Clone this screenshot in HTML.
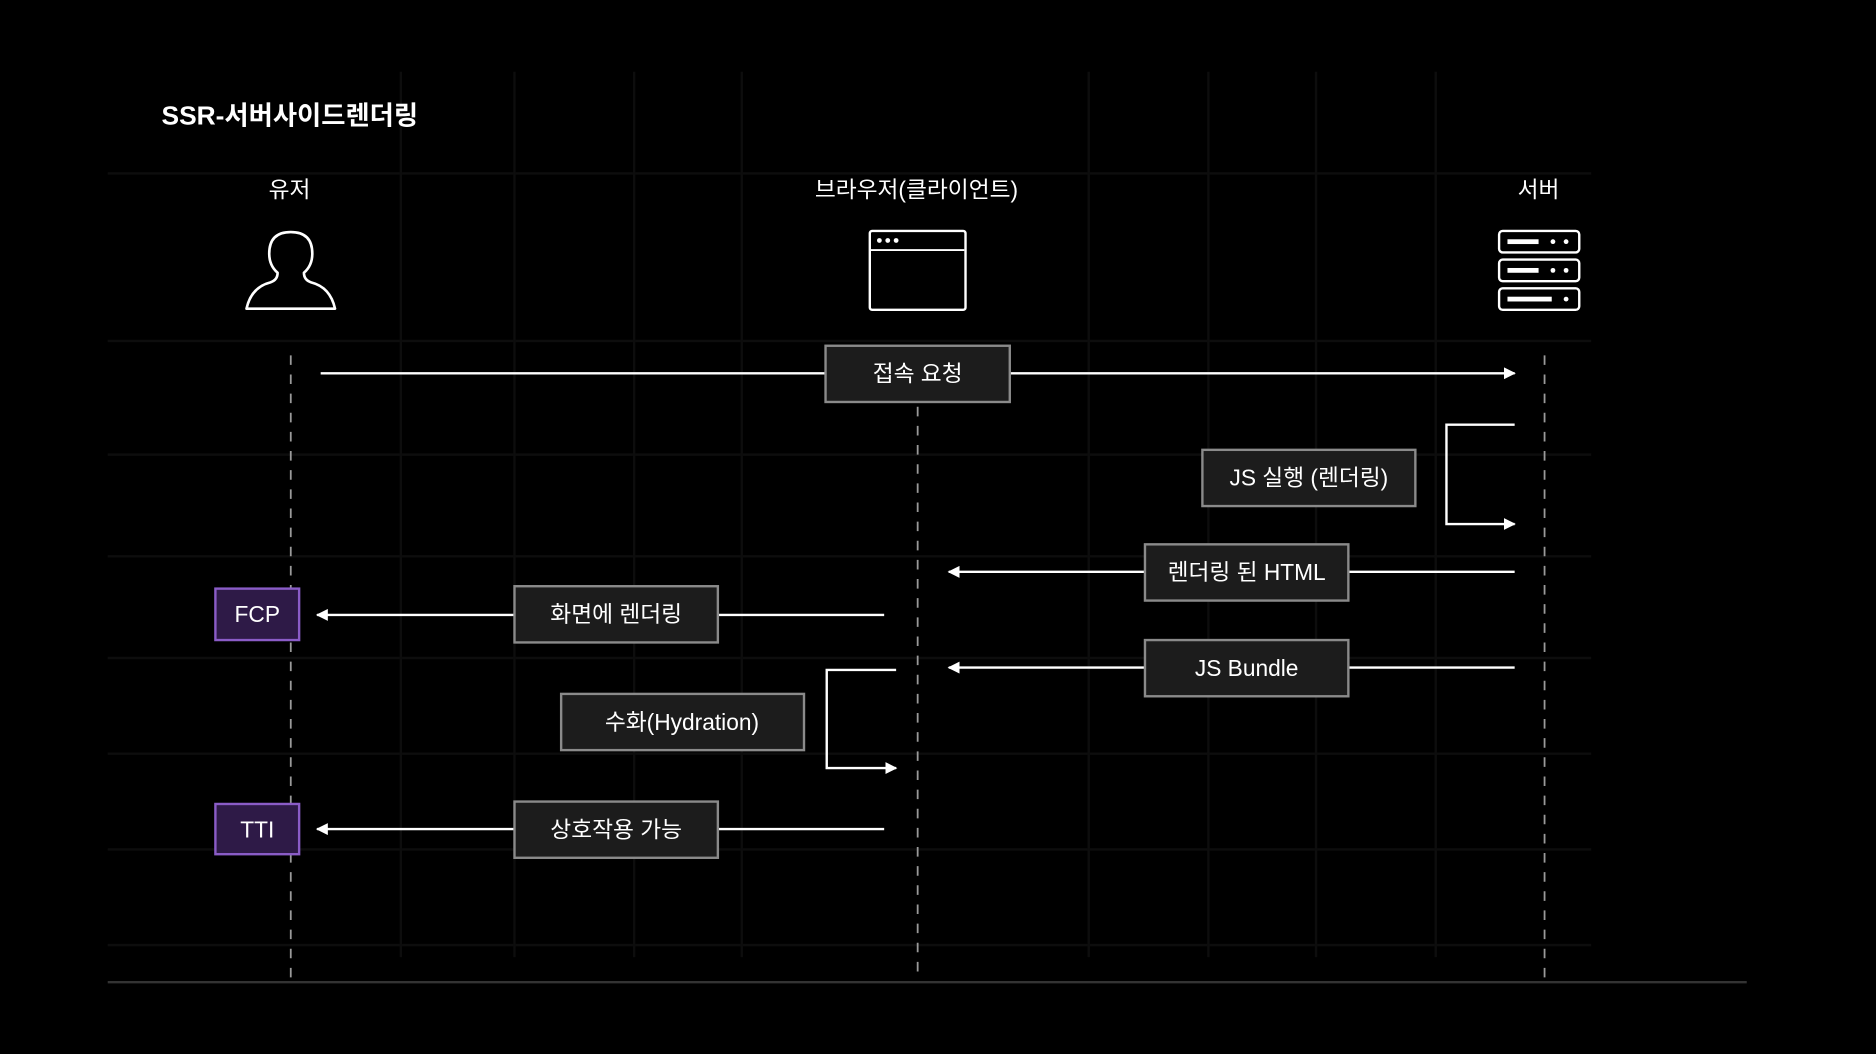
<!DOCTYPE html>
<html><head><meta charset="utf-8"><style>
html,body{margin:0;padding:0;background:#000;}
svg{display:block}
text{font-family:"Liberation Sans","Noto Sans CJK KR",sans-serif;fill:#fff}
</style></head><body>
<svg width="1876" height="1054" viewBox="0 0 1568 881" xmlns="http://www.w3.org/2000/svg">
<defs>
<marker id="ah" markerWidth="10" markerHeight="10" refX="9" refY="5" orient="auto" markerUnits="userSpaceOnUse"><path d="M0,0 L10,5 L0,10 z" fill="#fff"/></marker>
</defs>
<rect width="1568" height="881" fill="#000"/>
<g stroke="#0d0d0d" stroke-width="2">
<line x1="90" y1="145" x2="1330" y2="145"/><line x1="90" y1="285" x2="1330" y2="285"/>
<line x1="90" y1="380" x2="1330" y2="380"/><line x1="90" y1="465" x2="1330" y2="465"/>
<line x1="90" y1="550" x2="1330" y2="550"/><line x1="90" y1="630" x2="1330" y2="630"/>
<line x1="90" y1="710" x2="1330" y2="710"/><line x1="90" y1="790" x2="1330" y2="790"/>
<line x1="335" y1="60" x2="335" y2="800"/><line x1="430" y1="60" x2="430" y2="800"/>
<line x1="530" y1="60" x2="530" y2="800"/><line x1="620" y1="60" x2="620" y2="800"/>
<line x1="910" y1="60" x2="910" y2="800"/><line x1="1010" y1="60" x2="1010" y2="800"/>
<line x1="1100" y1="60" x2="1100" y2="800"/><line x1="1200" y1="60" x2="1200" y2="800"/>
</g>
<text x="135" y="104" font-size="22" font-weight="bold">SSR-서버사이드렌더링</text>
<text x="242" y="165" font-size="19" text-anchor="middle">유저</text>
<text x="766" y="165" font-size="19" text-anchor="middle">브라우저(클라이언트)</text>
<text x="1286" y="165" font-size="19" text-anchor="middle">서버</text>
<path d="M206,258 Q210,240 226,236 Q232,234 232,228 Q225,222 225,212 Q225,194 243,194 Q261,194 261,212 Q261,222 254,228 Q254,234 260,236 Q276,240 280,258 Z" fill="none" stroke="#fff" stroke-width="2.2" stroke-linejoin="round"/>
<rect x="727" y="193" width="80" height="66" rx="2" fill="none" stroke="#fff" stroke-width="2"/>
<line x1="728" y1="209" x2="806" y2="209" stroke="#fff" stroke-width="1.5"/>
<circle cx="735" cy="201" r="2" fill="#fff"/><circle cx="742" cy="201" r="2" fill="#fff"/><circle cx="749" cy="201" r="2" fill="#fff"/>
<g fill="none" stroke="#fff" stroke-width="2">
<rect x="1253" y="193" width="67" height="18" rx="3"/><rect x="1253" y="217" width="67" height="18" rx="3"/><rect x="1253" y="241" width="67" height="18" rx="3"/>
</g>
<g fill="#fff">
<rect x="1260" y="200" width="26" height="4"/><circle cx="1298" cy="202" r="2"/><circle cx="1309" cy="202" r="2"/>
<rect x="1260" y="224" width="26" height="4"/><circle cx="1298" cy="226" r="2"/><circle cx="1309" cy="226" r="2"/>
<rect x="1260" y="248" width="37" height="4"/><circle cx="1309" cy="250" r="2"/>
</g>
<g stroke="#9a9a9a" stroke-width="1.5" stroke-dasharray="8,8">
<line x1="243" y1="297" x2="243" y2="820"/><line x1="767" y1="340" x2="767" y2="820"/><line x1="1291" y1="297" x2="1291" y2="820"/>
</g>
<line x1="90" y1="821" x2="1460" y2="821" stroke="#333" stroke-width="2"/>
<g stroke="#fff" stroke-width="2" fill="none" marker-end="url(#ah)">
<line x1="268" y1="312" x2="1266" y2="312"/>
<polyline points="1266,355 1209,355 1209,438 1266,438"/>
<line x1="1266" y1="478" x2="793" y2="478"/>
<line x1="739" y1="514" x2="265" y2="514"/>
<line x1="1266" y1="558" x2="793" y2="558"/>
<polyline points="749,560 691,560 691,642 749,642"/>
<line x1="739" y1="693" x2="265" y2="693"/>
</g>
<g fill="#1c1c1c" stroke="#8a8a8a" stroke-width="2">
<rect x="690" y="289" width="154" height="47"/>
<rect x="1005" y="376" width="178" height="47"/>
<rect x="957" y="455" width="170" height="47"/>
<rect x="430" y="490" width="170" height="47"/>
<rect x="957" y="535" width="170" height="47"/>
<rect x="469" y="580" width="203" height="47"/>
<rect x="430" y="670" width="170" height="47"/>
</g>
<g fill="#2e1a47" stroke="#8a5cc7" stroke-width="2">
<rect x="180" y="492" width="70" height="43"/>
<rect x="180" y="672" width="70" height="42"/>
</g>
<g font-size="19" text-anchor="middle">
<text x="767" y="319">접속 요청</text>
<text x="1094" y="406">JS 실행 (렌더링)</text>
<text x="1042" y="485">렌더링 된 HTML</text>
<text x="515" y="520">화면에 렌더링</text>
<text x="1042" y="565">JS Bundle</text>
<text x="570" y="610">수화(Hydration)</text>
<text x="515" y="700">상호작용 가능</text>
<text x="215" y="520">FCP</text>
<text x="215" y="700">TTI</text>
</g>
</svg>
</body></html>
